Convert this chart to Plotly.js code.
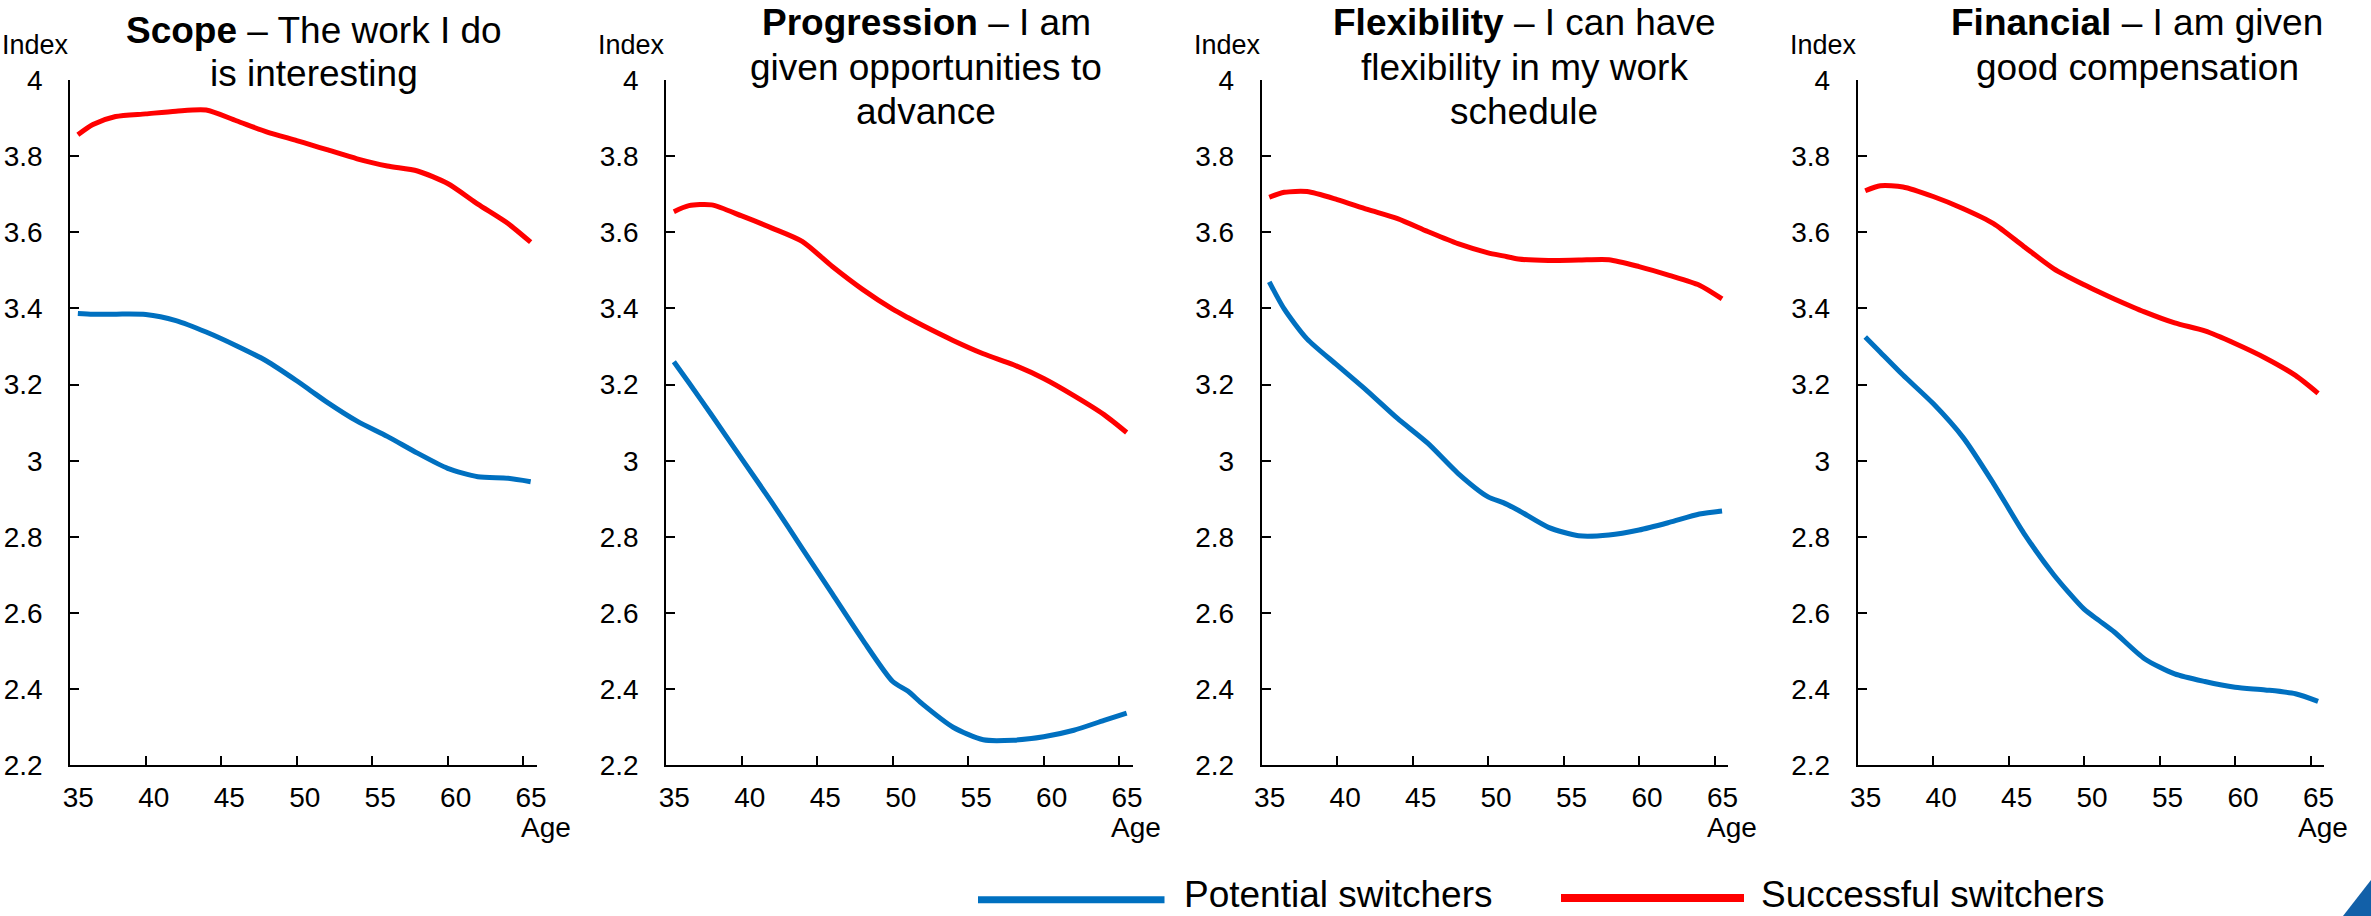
<!DOCTYPE html>
<html>
<head>
<meta charset="utf-8">
<script src="https://cdn.plot.ly/plotly-3.0.1.min.js"></script>
<style>
  html, body { margin: 0; padding: 0; background: #fff; }
  #chart { width: 2371px; height: 916px; }
</style>
</head>
<body>
<div id="chart"></div>
<script>
// Age grid shared by every panel
const ages = [35.5, 36.5, 38, 40, 42, 44, 46, 48, 50, 51, 52, 54, 56, 58, 60, 62, 64, 65.5];

// Index values by age, one pair of series per job aspect
const scopePotential      = [3.387, 3.385, 3.385, 3.384, 3.368, 3.338, 3.302, 3.262, 3.210, 3.182, 3.154, 3.104, 3.064, 3.020, 2.980, 2.958, 2.954, 2.945];
const scopeSuccessful     = [3.856, 3.883, 3.904, 3.911, 3.918, 3.921, 3.893, 3.864, 3.841, 3.829, 3.817, 3.793, 3.774, 3.761, 3.728, 3.674, 3.623, 3.574];

const progressionPotential  = [3.260, 3.205, 3.120, 3.005, 2.890, 2.770, 2.650, 2.530, 2.420, 2.395, 2.360, 2.300, 2.267, 2.266, 2.275, 2.292, 2.318, 2.337];
const progressionSuccessful = [3.654, 3.670, 3.672, 3.643, 3.611, 3.576, 3.510, 3.450, 3.398, 3.376, 3.355, 3.316, 3.281, 3.252, 3.216, 3.171, 3.121, 3.074];

const flexibilityPotential  = [3.470, 3.398, 3.320, 3.251, 3.183, 3.111, 3.046, 2.967, 2.905, 2.890, 2.870, 2.825, 2.803, 2.805, 2.818, 2.838, 2.860, 2.868];
const flexibilitySuccessful = [3.692, 3.705, 3.707, 3.686, 3.660, 3.636, 3.602, 3.570, 3.546, 3.538, 3.530, 3.526, 3.527, 3.528, 3.510, 3.487, 3.461, 3.425];

const financialPotential  = [3.325, 3.285, 3.225, 3.150, 3.060, 2.940, 2.810, 2.700, 2.610, 2.580, 2.550, 2.480, 2.440, 2.420, 2.405, 2.398, 2.388, 2.368];
const financialSuccessful = [3.709, 3.722, 3.719, 3.694, 3.662, 3.623, 3.563, 3.504, 3.462, 3.443, 3.425, 3.391, 3.362, 3.341, 3.308, 3.270, 3.224, 3.177];

// Panel headings, one entry per printed line (the first line opens with the bold keyword)
const panelHeads = ['Scope', 'Progression', 'Flexibility', 'Financial'];
const panelQuestionLines = [
  ['The work I do', 'is interesting'],
  ['I am', 'given opportunities to', 'advance'],
  ['I can have', 'flexibility in my work', 'schedule'],
  ['I am given', 'good compensation']
];

// Tick labels
const ageTicks = [35, 40, 45, 50, 55, 60, 65];
const ageTickText = ['35', '40', '45', '50', '55', '60', '65'];
const indexTicks = [2.2, 2.4, 2.6, 2.8, 3.0, 3.2, 3.4, 3.6, 3.8, 4.0];
const indexTickText = ['2.2', '2.4', '2.6', '2.8', '3', '3.2', '3.4', '3.6', '3.8', '4'];

// Series names
const seriesNames = ['Potential switchers', 'Successful switchers'];

// ---------------------------------------------------------------------------
const W = 2371, H = 916;
const px = x => x / W;
const py = y => 1 - y / H;

const BLUE = '#0070C0';
const RED = '#FF0000';
const NARROW = '"Liberation Sans Narrow", "Arial Narrow", "Liberation Sans", Arial, sans-serif';
const REGULAR = '"Liberation Sans", Arial, sans-serif';

const seriesByPanel = [
  [scopePotential, scopeSuccessful],
  [progressionPotential, progressionSuccessful],
  [flexibilityPotential, flexibilitySuccessful],
  [financialPotential, financialSuccessful]
];

// Plot-area geometry in pixels
const panelLeft = [70.3, 666.3, 1261.7, 1857.7];
const panelWidth = 466.4;
const plotTop = 80, plotBottom = 765.3;
const titleCenter = [314, 926, 1524, 2137];
const titleTop = [8, 0, 0, 0];
const titleStep = [43.3, 44.5, 44.5, 44.5];
const ageLabelOffset = [475.5, 470, 470, 465];

const traces = [];
const layout = {
  width: W, height: H,
  margin: { l: 0, r: 0, t: 0, b: 0, pad: 0 },
  paper_bgcolor: '#fff', plot_bgcolor: '#fff',
  showlegend: false,
  font: { family: REGULAR, color: '#000' },
  annotations: [],
  shapes: []
};

const axisStyle = {
  showline: true, linecolor: '#000', linewidth: 2,
  ticks: 'inside', ticklen: 9, tickwidth: 2, tickcolor: '#000',
  showgrid: false, zeroline: false, fixedrange: true,
  tickfont: { family: NARROW, size: 28, color: '#000' }
};

seriesByPanel.forEach((pair, i) => {
  const k = i === 0 ? '' : String(i + 1);
  const x0 = panelLeft[i];

  pair.forEach((vals, s) => {
    traces.push({
      x: ages, y: vals,
      xaxis: 'x' + k, yaxis: 'y' + k,
      type: 'scatter', mode: 'lines',
      name: seriesNames[s],
      line: { color: s === 0 ? BLUE : RED, width: 5, shape: 'spline', smoothing: 0.7 },
      hoverinfo: 'x+y'
    });
  });

  layout['xaxis' + k] = Object.assign({}, axisStyle, {
    domain: [px(x0), px(x0 + panelWidth)],
    anchor: 'y' + k,
    range: [35, 65.9],
    tickmode: 'array', tickvals: ageTicks, ticktext: ageTickText,
    ticklabelshift: 8, ticklabelstandoff: 6
  });
  layout['yaxis' + k] = Object.assign({}, axisStyle, {
    domain: [py(plotBottom), py(plotTop)],
    anchor: 'x' + k,
    range: [2.2, 4],
    tickmode: 'array', tickvals: indexTicks, ticktext: indexTickText,
    ticklabelstandoff: 20
  });

  // Panel heading, one annotation per line
  panelQuestionLines[i].forEach((line, j) => {
    const text = j === 0 ? '<b>' + panelHeads[i] + '</b> \u2013 ' + line : line;
    layout.annotations.push({
      xref: 'paper', yref: 'paper',
      x: px(titleCenter[i]), y: py(titleTop[i] + j * titleStep[i]),
      xanchor: 'center', yanchor: 'top',
      text: text, showarrow: false, align: 'center',
      font: { family: REGULAR, size: 37, color: '#000' }
    });
  });
  // Unit label above the value axis
  layout.annotations.push({
    xref: 'paper', yref: 'paper',
    x: px(x0 + 1), y: py(62),
    xanchor: 'right', yanchor: 'bottom',
    text: 'Index', showarrow: false,
    font: { family: NARROW, size: 27, color: '#000' }
  });
  // Age label under the end of the age axis
  layout.annotations.push({
    xref: 'paper', yref: 'paper',
    x: px(x0 + ageLabelOffset[i]), y: py(810),
    xanchor: 'center', yanchor: 'top',
    text: 'Age', showarrow: false,
    font: { family: NARROW, size: 28, color: '#000' }
  });
});

// Legend drawn underneath the panels
const legendItems = [
  { color: BLUE, x1: 978, x2: 1164.5, y: 899.7, w: 7, textX: 1183 },
  { color: RED, x1: 1561, x2: 1744, y: 898, w: 8, textX: 1760 }
];
legendItems.forEach((item, s) => {
  layout.shapes.push({
    type: 'line', xref: 'paper', yref: 'paper',
    x0: px(item.x1), x1: px(item.x2), y0: py(item.y), y1: py(item.y),
    line: { color: item.color, width: item.w }
  });
  layout.annotations.push({
    xref: 'paper', yref: 'paper',
    x: px(item.textX), y: py(916),
    xanchor: 'left', yanchor: 'bottom', borderpad: 0,
    text: seriesNames[s], showarrow: false,
    font: { family: REGULAR, size: 37, color: '#000' }
  });
});

// Corner mark
layout.shapes.push({
  type: 'path', xref: 'paper', yref: 'paper',
  path: 'M ' + px(2343) + ',' + py(916) + ' L ' + px(2371) + ',' + py(880) + ' L ' + px(2371) + ',' + py(916) + ' Z',
  fillcolor: '#1260A8', line: { width: 0 }
});

Plotly.newPlot('chart', traces, layout, { displayModeBar: false, staticPlot: true });
</script>
</body>
</html>
